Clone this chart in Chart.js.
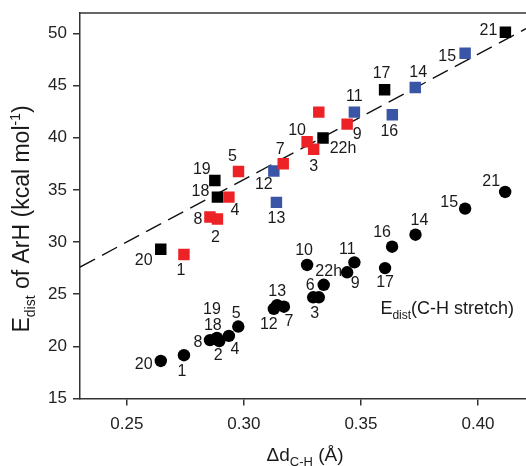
<!DOCTYPE html>
<html><head><meta charset="utf-8">
<script src="https://cdn.jsdelivr.net/npm/chart.js@4.4.0/dist/chart.umd.min.js"></script>
<style>html,body{margin:0;padding:0;background:#fff;}</style>
</head><body>
<canvas id="c" width="526" height="466"></canvas>
<script>
// ---- tick labels ----
const xTicks = [0.25, 0.30, 0.35, 0.40];
const yTicks = [15, 20, 25, 30, 35, 40, 45, 50];

// ---- E_dist of ArH (squares), grouped by colour ----
const redLabels = ['1', '2', '3', '4', '5', '', '7', '8', '9', '10'];
const redX = [0.2744, 0.2887, 0.3298, 0.2936, 0.2977, 0.3320, 0.3168, 0.2855, 0.3441, 0.3270];
const redY = [28.8, 32.2, 38.9, 34.3, 36.75, 42.45, 37.5, 32.4, 41.3, 39.6];

const blueLabels = ['11', '12', '13', '14', '15', '16'];
const blueX = [0.3472, 0.3128, 0.3139, 0.3732, 0.3945, 0.3634];
const blueY = [42.45, 36.8, 33.8, 44.8, 48.1, 42.2];

const blackLabels = ['17', '18', '19', '20', '21', '22h'];
const blackX = [0.3601, 0.2887, 0.2876, 0.2645, 0.4117, 0.3338];
const blackY = [44.6, 34.3, 35.9, 29.3, 50.1, 39.96];

// ---- E_dist (C-H stretch) (circles) ----
const circleLabels = ['1','2','3','4','5','6','7','8','9','10','11','12','13','14','15','16','17','18','19','20','21','22h'];
const circleX = [0.2744, 0.2895, 0.3320, 0.2936, 0.2976, 0.3296, 0.3171, 0.2855, 0.3441, 0.3270, 0.3472,
                 0.3128, 0.3142, 0.3733, 0.3945, 0.3633, 0.3603, 0.2880, 0.2885, 0.2645, 0.4116, 0.3341];
const circleY = [19.15, 20.5, 24.7, 21.0, 21.9, 24.7, 23.8, 20.6, 27.1, 27.8, 28.05,
                 23.6, 23.95, 30.7, 33.2, 29.55, 27.5, 20.7, 20.8, 18.6, 34.8, 25.9];

// ---- dashed fit line (end points) ----
const fitX = [0.23, 0.4205];
const fitY = [27.6, 50.45];

// ---- label placement (pixel offsets from each mark) ----
const redOff = [[-3,16],[-2,19],[0,17],[6,13],[-6,-15],[0,0],[-3,-14],[-12,3],[10,10],[-10,-11]];
const blueOff = [[0,-16],[-10,14],[0,16],[3,-15],[-18,3],[-3,17]];
const blackOff = [[-3,-16],[-17,-6],[-13,-11],[-17,11],[-17,-2],[20,11]];
const circleOff = [[-2,16],[-1,14],[-4,16],[6,14],[-2,-13],[-3,-12],[5,15],[-12,3],[8,11],[-3,-14],[-7,-13],
                   [-5,16],[0,-14],[4,-14],[-16,-6],[-10,-14],[0,15],[-3,-13],[-5,-28],[-17,4],[-14,-10],[5,-13]];

const FONT = '"Liberation Sans", Arial, Helvetica, sans-serif';
const RED = '#ec2227', BLUE = '#3a55a5', BLACK = '#000000';
const pts = (xs, ys) => xs.map((x, i) => ({ x: x, y: ys[i] }));

function drawRich(ctx, segs, x, y) {
  let total = 0;
  segs.forEach(s => { ctx.font = s.size + 'px ' + FONT; total += ctx.measureText(s.t).width; });
  let cx = x - total / 2;
  segs.forEach(s => {
    ctx.font = s.size + 'px ' + FONT;
    ctx.fillText(s.t, cx, y + (s.dy || 0));
    cx += ctx.measureText(s.t).width;
  });
}

const decor = {
  id: 'decor',
  beforeDatasetsDraw(chart) {
    const ctx = chart.ctx, a = chart.chartArea;
    ctx.save();
    ctx.strokeStyle = '#333'; ctx.lineWidth = 1.5;
    ctx.beginPath(); ctx.moveTo(a.left, a.top); ctx.lineTo(a.right, a.top); ctx.stroke();
    ctx.restore();
  },
  afterDatasetsDraw(chart) {
    const ctx = chart.ctx;
    ctx.save();
    ctx.fillStyle = '#1a1a1a';
    ctx.textAlign = 'center'; ctx.textBaseline = 'middle';
    ctx.font = '16px ' + FONT;
    chart.data.datasets.forEach((ds, i) => {
      if (!ds.pointLabels) return;
      const meta = chart.getDatasetMeta(i);
      meta.data.forEach((el, j) => {
        const t = ds.pointLabels[j];
        if (!t) return;
        const o = ds.labelOffsets[j];
        ctx.fillText(t, el.x + o[0], el.y + o[1]);
      });
    });
    ctx.textAlign = 'left'; ctx.textBaseline = 'alphabetic';
    // x title
    drawRich(ctx, [{t: '\u0394d', size: 19}, {t: 'C-H', size: 13, dy: 5}, {t: ' (\u00c5)', size: 19}], 305, 461);
    // y title
    ctx.save();
    ctx.translate(28.5, 219);
    ctx.rotate(-Math.PI / 2);
    drawRich(ctx, [{t: 'E', size: 23}, {t: 'dist', size: 14, dy: 6}, {t: ' of ArH (kcal mol', size: 23},
                   {t: '-1', size: 14, dy: -9}, {t: ')', size: 23}], 0, 0);
    ctx.restore();
    // annotation
    const xs = chart.scales.x, ys = chart.scales.y;
    const ax = xs.getPixelForValue(0.3583), ay = ys.getPixelForValue(23.1);
    const segs = [{t: 'E', size: 18}, {t: 'dist', size: 12, dy: 5}, {t: '(C-H stretch)', size: 18}];
    let w = 0; segs.forEach(s => { ctx.font = s.size + 'px ' + FONT; w += ctx.measureText(s.t).width; });
    drawRich(ctx, segs, ax + w / 2, ay);
    ctx.restore();
  }
};

new Chart(document.getElementById('c'), {
  type: 'scatter',
  data: {
    datasets: [
      { data: pts(redX, redY), pointStyle: 'rect', pointRadius: 8.1, backgroundColor: RED, borderWidth: 0,
        pointLabels: redLabels, labelOffsets: redOff },
      { data: pts(blueX, blueY), pointStyle: 'rect', pointRadius: 8.1, backgroundColor: BLUE, borderWidth: 0,
        pointLabels: blueLabels, labelOffsets: blueOff },
      { data: pts(blackX, blackY), pointStyle: 'rect', pointRadius: 8.1, backgroundColor: BLACK, borderWidth: 0,
        pointLabels: blackLabels, labelOffsets: blackOff },
      { data: pts(circleX, circleY), pointStyle: 'circle', pointRadius: 6.2, backgroundColor: BLACK, borderWidth: 0,
        pointLabels: circleLabels, labelOffsets: circleOff },
      { data: pts(fitX, fitY), showLine: true, pointRadius: 0, borderColor: '#111', borderWidth: 1.4,
        borderDash: [17, 8], fill: false }
    ]
  },
  options: {
    responsive: false, animation: false, events: [],
    layout: { autoPadding: false, padding: { top: 13, right: 0, left: 0, bottom: 0 } },
    plugins: { legend: { display: false }, tooltip: { enabled: false } },
    scales: {
      x: {
        type: 'linear', min: 0.23, max: 0.4205,
        afterBuildTicks: s => { s.ticks = xTicks.map(v => ({ value: v })); },
        afterFit: s => { s.height = 67.5; s.paddingLeft = 0; s.paddingRight = 0; },
        ticks: { callback: v => Number(v).toFixed(2), font: { size: 17, family: FONT }, color: '#222', padding: 9,
                 maxRotation: 0, autoSkip: false },
        grid: { drawOnChartArea: false, drawTicks: true, tickLength: 7, color: '#333', lineWidth: 1.5 },
        border: { display: true, color: '#333', width: 1.5 }
      },
      y: {
        type: 'linear', min: 15, max: 51.95,
        afterBuildTicks: s => { s.ticks = yTicks.map(v => ({ value: v })); },
        afterFit: s => { s.width = 80; s.paddingTop = 0; s.paddingBottom = 0; },
        ticks: { callback: v => String(v), font: { size: 17, family: FONT }, color: '#222', padding: 6 },
        grid: { drawOnChartArea: false, drawTicks: true, tickLength: 7, color: '#333', lineWidth: 1.5 },
        border: { display: true, color: '#333', width: 1.5 }
      }
    }
  },
  plugins: [decor]
});
</script>
</body></html>
